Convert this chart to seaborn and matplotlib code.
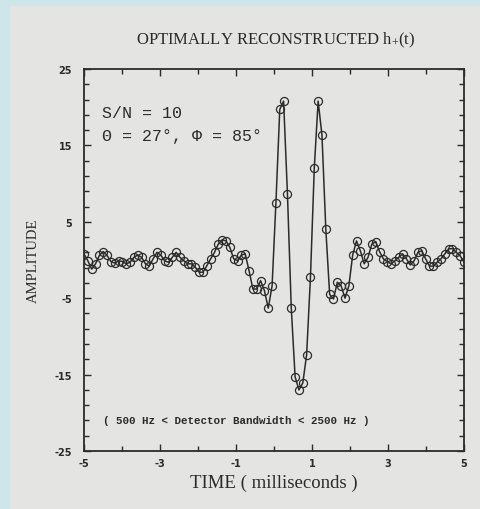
import numpy as np
import pandas as pd
import matplotlib
matplotlib.use("Agg")
import matplotlib.pyplot as plt
from matplotlib.patches import Rectangle
from matplotlib.ticker import FixedLocator
import seaborn as sns

# Reconstructed waveform h+(t): 100 samples spanning -5 ms .. +5 ms
time_start_ms = -5.0
time_end_ms = 5.0
n_samples = 100

amplitude = [
    0.8, -0.1, -1.2, -0.5, 0.6, 1.1, 0.6, -0.2, -0.4, -0.1,
    -0.2, -0.5, -0.3, 0.35, 0.65, 0.35, -0.5, -0.8, 0.15, 1.0,
    0.65, -0.1, -0.3, 0.35, 1.0, 0.35, -0.1, -0.5, -0.5, -0.95,
    -1.6, -1.6, -0.75, 0.15, 1.0, 2.1, 2.65, 2.5, 1.65, 0.15,
    -0.1, 0.65, 0.8, -1.4, -3.8, -3.8, -2.7, -4.0, -6.3, -3.4,
    7.5, 19.7, 20.8, 8.7, -6.3, -15.3, -17.0, -16.1, -12.4, -2.2,
    12.1, 20.8, 16.3, 4.0, -4.5, -5.1, -2.9, -3.4, -5.0, -3.4,
    0.65, 2.5, 1.2, -0.5, 0.35, 2.1, 2.4, 1.1, 0.15, -0.2,
    -0.5, -0.1, 0.35, 0.8, 0.15, -0.65, -0.1, 1.0, 1.2, 0.15,
    -0.8, -0.8, -0.3, 0.15, 0.8, 1.45, 1.5, 1.0, 0.55, -0.3,
]

x_major_ticks = [-5, -3, -1, 1, 3, 5]
x_minor_ticks = [-4, -2, 0, 2, 4]
y_major_ticks = [-25, -15, -5, 5, 15, 25]
y_minor_ticks = [v for v in range(-25, 26, 2) if v not in y_major_ticks]

title_text = "OPTIMALLY RECONSTRUCTED h$_{+}$(t)"
x_label = "TIME ( milliseconds )"
y_label = "AMPLITUDE"
snr_text = "S/N = 10"
angle_text = "\u0398 = 27\u00b0, \u03a6 = 85\u00b0"
band_text = "( 500 Hz < Detector Bandwidth < 2500 Hz )"

time_ms = np.linspace(time_start_ms, time_end_ms, n_samples)
df = pd.DataFrame({"time": time_ms, "amplitude": amplitude})

sns.set_theme(style="ticks")
plt.rcParams.update({
    "font.family": ["DejaVu Sans"],
    "axes.unicode_minus": False,
    "mathtext.fontset": "custom",
    "mathtext.rm": "Liberation Serif",
    "mathtext.it": "Liberation Serif:italic",
    "mathtext.bf": "Liberation Serif:bold",
})

ink = "#2b2b2b"
paper = "#e4e4e2"
frame_blue = "#cce6ea"

W, H = 481, 510
fig = plt.figure(figsize=(W / 100, H / 100), dpi=100)
fig.patch.set_facecolor(frame_blue)
fig.add_artist(Rectangle((10 / W, 0), 1 - 10 / W, 1 - 7 / H,
                         transform=fig.transFigure, facecolor=paper,
                         edgecolor="none", zorder=-5))

ax_l, ax_r, ax_t, ax_b = 84, 464, 70, 452
ax = fig.add_axes([ax_l / W, 1 - ax_b / H, (ax_r - ax_l) / W, (ax_b - ax_t) / H])
ax.set_facecolor("none")

sns.lineplot(data=df, x="time", y="amplitude", ax=ax, color=ink,
             linewidth=1.1, marker="o", markersize=5.8,
             markerfacecolor="none", markeredgecolor=ink,
             markeredgewidth=0.9, estimator=None, sort=False)

ax.set_xlim(-5, 5)
ax.set_ylim(-25, 25)
ax.xaxis.set_major_locator(FixedLocator(x_major_ticks))
ax.xaxis.set_minor_locator(FixedLocator(x_minor_ticks))
ax.yaxis.set_major_locator(FixedLocator(y_major_ticks))
ax.yaxis.set_minor_locator(FixedLocator(y_minor_ticks))

for side in ax.spines.values():
    side.set_color(ink)
    side.set_linewidth(1.3)

ax.tick_params(which="both", direction="in", top=True, right=True,
               color=ink, width=1.0, labelcolor=ink, labelsize=7)
ax.tick_params(which="major", length=5)
ax.tick_params(which="minor", length=3.5)
ax.tick_params(axis="x", which="major", pad=5)
ax.tick_params(axis="y", which="major", pad=8.5)
for lbl in ax.get_xticklabels() + ax.get_yticklabels():
    lbl.set_fontweight("bold")

ax.set_xlabel(x_label, family="Liberation Serif", fontsize=13.5, color=ink)
ax.xaxis.set_label_coords(0.5, -0.081)
ax.xaxis.label.set_va("center")
ax.set_ylabel(y_label, family="Liberation Serif", fontsize=10.5, color=ink)
ax.yaxis.set_label_coords(-0.134, 0.5)
ax.yaxis.label.set_va("center")

fig.text(276 / W, 1 - 40 / H, title_text, family="Liberation Serif",
         fontsize=12, ha="center", va="center", color=ink)

ax.text(0.047, 0.887, snr_text, transform=ax.transAxes,
        family="Liberation Mono", fontsize=12, va="center", color=ink)
ax.text(0.047, 0.825, angle_text, transform=ax.transAxes,
        family="Liberation Mono", fontsize=12, va="center", color=ink)
ax.text(0.05, 0.081, band_text, transform=ax.transAxes,
        family="Liberation Mono", fontweight="bold", fontsize=7.8,
        va="center", color=ink)

fig.savefig("out.png", dpi=100, facecolor=fig.get_facecolor())
